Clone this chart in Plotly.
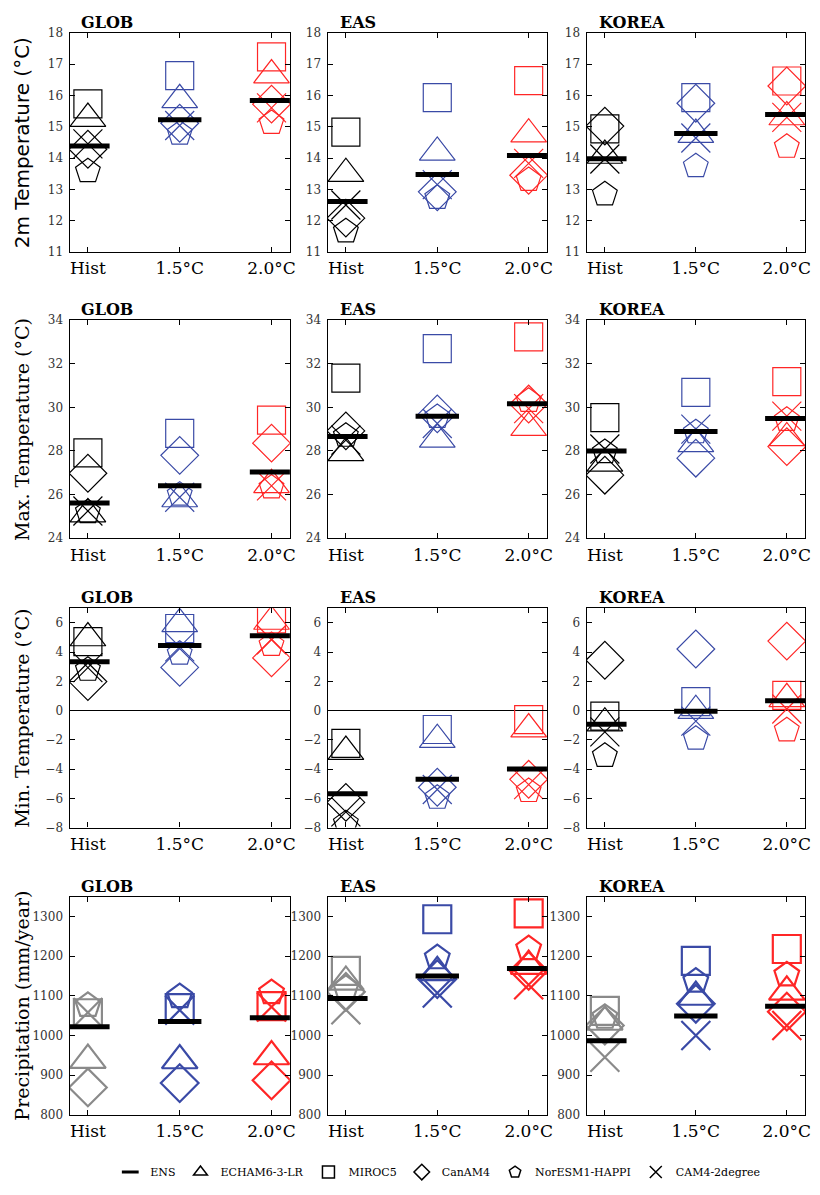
import plotly.graph_objects as go

# ---------------- data ----------------
scenarios = ["Hist", "1.5°C", "2.0°C"]
regions = ["GLOB", "EAS", "KOREA"]
row_titles = ["2m Temperature (°C)", "Max. Temperature (°C)",
              "Min. Temperature (°C)", "Precipitation (mm/year)"]
models = ["ENS", "ECHAM6-3-LR", "MIROC5", "CanAM4", "NorESM1-HAPPI", "CAM4-2degree"]

# each list: GLOB(Hist,1.5,2.0), EAS(Hist,1.5,2.0), KOREA(Hist,1.5,2.0)
t2m_ens    = [14.38, 15.22, 15.84, 12.61, 13.47, 14.08, 13.98, 14.78, 15.39]
t2m_echam  = [15.26, 15.86, 16.65, 13.50, 14.18, 14.76, 14.08, 14.75, 15.31]
t2m_miroc  = [15.73, 16.63, 17.23, 14.83, 15.93, 16.47, 14.93, 15.93, 16.46]
t2m_canam  = [14.28, 15.11, 15.72, 12.08, 12.92, 13.45, 15.02, 15.75, 16.30]
t2m_noresm = [13.58, 14.78, 15.12, 11.66, 12.73, 13.30, 12.84, 13.74, 14.36]
t2m_cam4   = [14.45, 15.04, 15.60, 12.50, 13.15, 13.83, 13.97, 14.64, 15.30]

tmax_ens    = [25.62, 26.41, 27.04, 28.66, 29.59, 30.17, 28.00, 28.89, 29.49]
tmax_echam  = [25.11, 25.80, 26.45, 27.91, 28.53, 29.07, 27.43, 28.33, 28.60]
tmax_miroc  = [27.91, 28.81, 29.41, 31.34, 32.69, 33.23, 29.53, 30.69, 31.18]
tmax_canam  = [26.98, 27.80, 28.36, 28.92, 29.70, 30.15, 26.89, 27.67, 28.20]
tmax_noresm = [25.20, 26.00, 26.33, 28.70, 29.56, 30.30, 27.95, 28.86, 29.43]
tmax_cam4   = [25.25, 25.88, 26.40, 28.50, 29.26, 29.94, 28.09, 29.00, 29.60]

tmin_ens    = [3.34, 4.45, 5.13, -5.69, -4.70, -4.00, -0.93, -0.05, 0.68]
tmin_echam  = [4.97, 5.94, 6.10, -2.80, -1.99, -1.26, -0.86, 0.00, 0.81]
tmin_miroc  = [4.72, 5.62, 6.28, -2.24, -1.29, -0.61, -0.38, 0.61, 1.04]
tmin_canam  = [1.99, 2.96, 3.61, -6.28, -5.24, -4.70, 3.45, 4.22, 4.76]
tmin_noresm = [2.80, 3.90, 4.50, -7.70, -5.96, -5.50, -3.09, -1.92, -1.35]
tmin_cam4   = [2.94, 4.36, 4.85, -6.93, -5.40, -5.06, -1.45, -0.72, 0.11]

pr_ens    = [1022, 1035, 1045, 1093, 1150, 1169, 987, 1049, 1074]
pr_echam  = [938, 937, 947, 1135, 1159, 1175, 1034, 1097, 1110]
pr_miroc  = [1056, 1069, 1074, 1163, 1293, 1308, 1062, 1188, 1218]
pr_canam  = [869, 880, 887, 1110, 1142, 1163, 1025, 1080, 1060]
pr_noresm = [1076, 1098, 1108, 1119, 1196, 1219, 1046, 1137, 1153]
pr_cam4   = [1058, 1064, 1072, 1065, 1107, 1128, 945, 1000, 1025]

y_ranges = [[11, 18], [24, 34], [-8, 7], [800, 1350]]
y_ticks = [list(range(11, 19)), list(range(24, 35, 2)),
           list(range(-8, 7, 2)), list(range(800, 1301, 100))]

# ---------------- style ----------------
OFF = 8                               # body margin of the html page
W, H = 820 - 2 * OFF, 1195 - 2 * OFF  # figure size so the page does not scroll
col_px = [(70, 292), (330, 551), (591, 811)]        # page pixel positions
row_px = [(26, 248), (317, 538), (609, 831), (901, 1122)]
BLUE = "#3a4aa6"
RED = "#ff2626"
SERIF = "DejaVu Serif"


def fx(p):
    return (p - OFF) / W


def fy(p):
    return 1 - (p - OFF) / H


data_rows = [
    [t2m_ens, t2m_echam, t2m_miroc, t2m_canam, t2m_noresm, t2m_cam4],
    [tmax_ens, tmax_echam, tmax_miroc, tmax_canam, tmax_noresm, tmax_cam4],
    [tmin_ens, tmin_echam, tmin_miroc, tmin_canam, tmin_noresm, tmin_cam4],
    [pr_ens, pr_echam, pr_miroc, pr_canam, pr_noresm, pr_cam4],
]
symbols = ["line-ew-open", "triangle-up-open", "square-open", "diamond-open",
           "pentagon-open", "x-thin-open"]
sizes = [31, 31, 28, 29, 26, 29]

fig = go.Figure()
layout = {}
annotations = []

for r in range(4):
    hist_col = "#8a8a8a" if r == 3 else "black"
    cols = [hist_col, BLUE, RED]
    lw = 2.2 if r == 3 else 1.2
    for c in range(3):
        k = r * 3 + c + 1
        xa = "x" if k == 1 else f"x{k}"
        ya = "y" if k == 1 else f"y{k}"
        for m in range(1, 6):
            vals = data_rows[r][m][c * 3:(c + 1) * 3]
            fig.add_trace(go.Scatter(
                x=scenarios, y=vals, xaxis=xa, yaxis=ya, mode="markers",
                marker=dict(symbol=symbols[m], size=sizes[m], color=cols,
                            line=dict(width=lw, color=cols)),
                showlegend=False, hoverinfo="skip"))
        ens_vals = data_rows[r][0][c * 3:(c + 1) * 3]
        fig.add_trace(go.Scatter(
            x=scenarios, y=ens_vals, xaxis=xa, yaxis=ya, mode="markers",
            marker=dict(symbol="line-ew-open", size=31, color="black",
                        line=dict(width=5, color="black")),
            showlegend=False, hoverinfo="skip"))

        x0, x1 = col_px[c]
        yt, yb = row_px[r]
        axname_x = "xaxis" if k == 1 else f"xaxis{k}"
        axname_y = "yaxis" if k == 1 else f"yaxis{k}"
        layout[axname_x] = dict(
            domain=[fx(x0), fx(x1)], anchor=ya, type="category",
            categoryorder="array", categoryarray=scenarios,
            range=[-0.2, 2.2], showgrid=False, zeroline=False,
            showline=True, linecolor="black", linewidth=1.2, mirror="allticks",
            ticks="inside", ticklen=5, tickcolor="black", tickwidth=1,
            tickfont=dict(family=SERIF, size=17, color="black"),
            ticklabelstandoff=1)
        layout[axname_y] = dict(
            domain=[fy(yb), fy(yt)], anchor=xa,
            range=y_ranges[r], tickvals=y_ticks[r], showgrid=False,
            zeroline=(r == 2), zerolinecolor="black", zerolinewidth=1.2,
            showline=True, linecolor="black", linewidth=1.2, mirror="allticks",
            ticks="inside", ticklen=5, tickcolor="black", tickwidth=1,
            tickfont=dict(family=SERIF, size=12, color="#333333"),
            ticklabelstandoff=3)
        annotations.append(dict(
            text=f"<b>{regions[c]}</b>", xref="paper", yref="paper",
            x=fx(x0 + 10), y=fy(yt + 1), xanchor="left", yanchor="bottom",
            showarrow=False, font=dict(family=SERIF, size=16, color="black")))
    yt, yb = row_px[r]
    annotations.append(dict(
        text=row_titles[r], xref="paper", yref="paper",
        x=fx(22), y=fy((yt + yb) / 2), xanchor="center", yanchor="middle",
        textangle=-90, showarrow=False,
        font=dict(family="DejaVu Sans" if r == 0 else SERIF,
                  size=20 if r == 0 else 19, color="black")))

# legend entries
for m in range(6):
    fig.add_trace(go.Scatter(
        x=[None], y=[None], mode="markers", name=models[m],
        marker=dict(symbol=symbols[m], size=12, color="black",
                    line=dict(width=3 if m == 0 else 1.5, color="black")),
        showlegend=True))

fig.update_layout(
    width=W, height=H, margin=dict(l=0, r=0, t=0, b=0),
    plot_bgcolor="white", paper_bgcolor="white",
    annotations=annotations,
    legend=dict(orientation="h", x=fx(441), y=fy(1180), xanchor="center",
                yanchor="middle", font=dict(family=SERIF, size=11, color="black"),
                itemwidth=30, tracegroupgap=0),
    **layout)

fig.write_html("out.html")
